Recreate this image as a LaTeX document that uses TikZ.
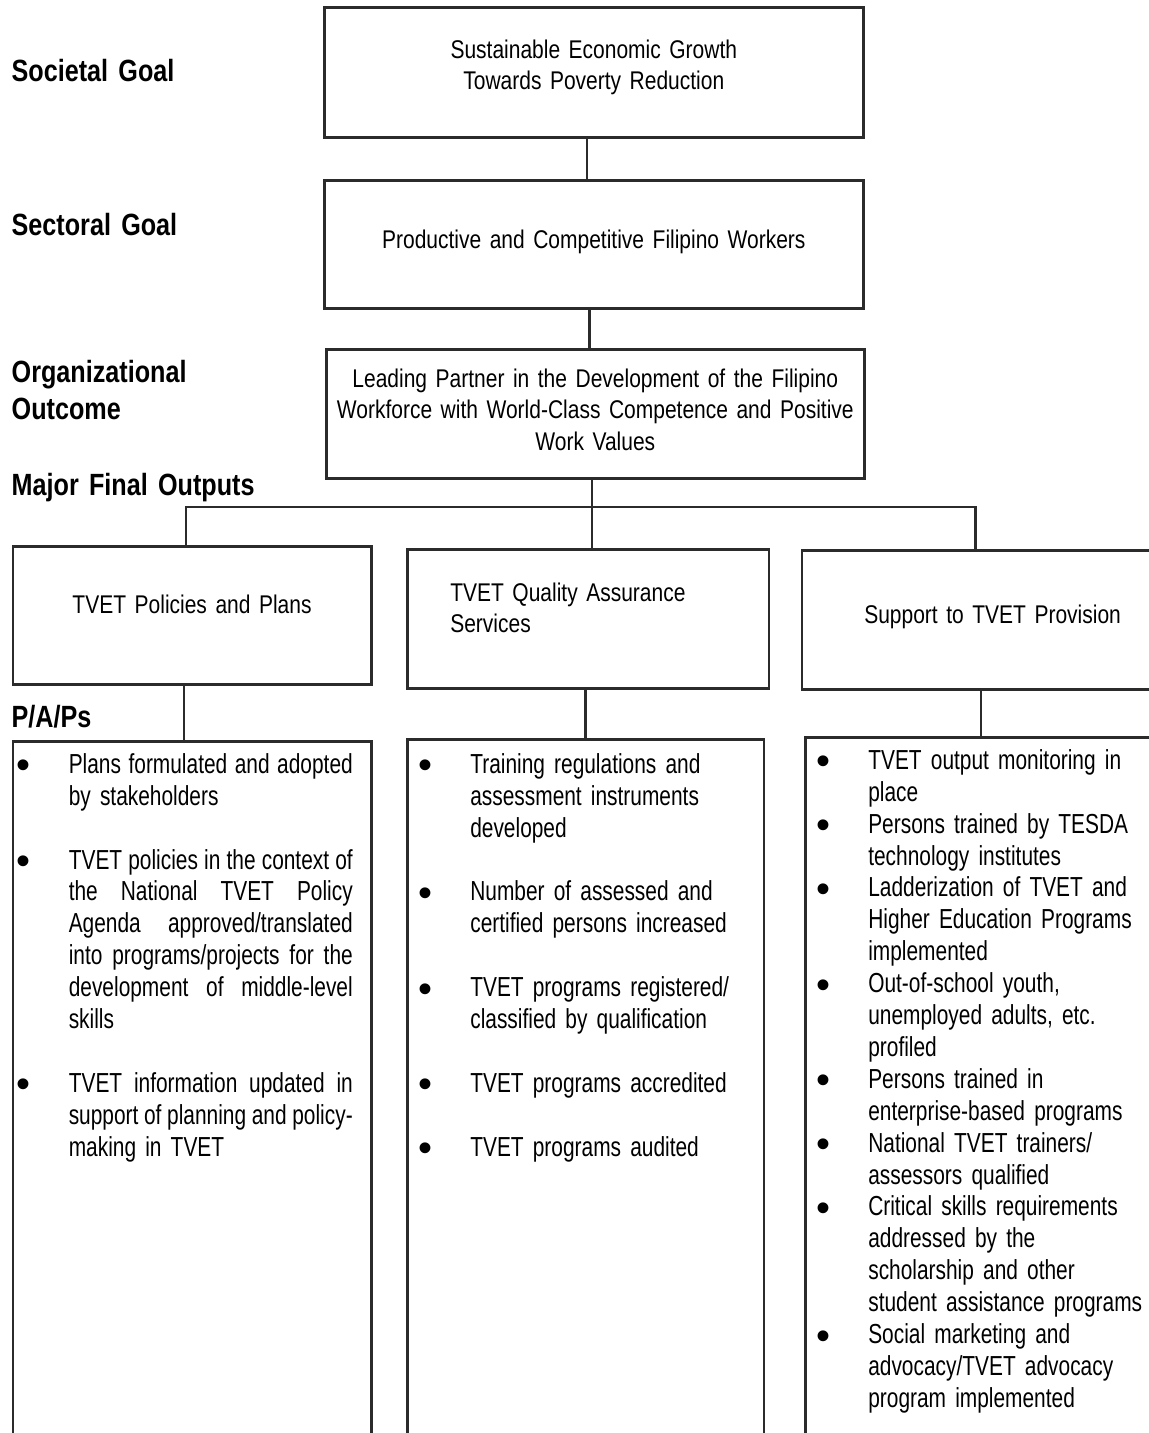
\documentclass[tikz,border=0pt]{standalone}
\usepackage{fontspec}
\setmainfont[FakeStretch=0.76]{Liberation Sans}
\newfontfamily\narrowsf[FakeStretch=0.82]{Liberation Sans}
\newfontfamily\plainsf{Liberation Sans}
\usepackage{tikz}
\definecolor{Ink}{HTML}{2B2B2B}
\newcommand{\pbul}{\leavevmode\llap{\raisebox{-5.5pt}{\plainsf\scalebox{1.45}{\textbullet}}\hspace{38pt}}}
\newcommand{\jline}[1]{\leavevmode\hbox to 284pt{\spaceskip=0.25em plus 1fil minus 0.1em\relax#1}}

\begin{document}
\begin{tikzpicture}[x=1pt,y=-1pt,
  goalbox/.style={draw=Ink,line width=2.6pt,anchor=north west,inner sep=0pt,align=center,font=\narrowsf\fontsize{25.6}{31.5}\selectfont},
  tier/.style={anchor=base west,inner sep=0pt,align=left,text width=250pt,font=\narrowsf\bfseries\fontsize{30.7}{37.5}\selectfont},
  papbox/.style={draw=Ink,line width=2.6pt,anchor=north west,inner sep=0pt,align=left,text height=32pt,text depth=700pt,font=\fontsize{27.5}{31.9}\selectfont},
  link/.style={draw=Ink,line width=2.6pt}
]
\useasboundingbox (0,0) rectangle (1149,1433);
\clip (0,0) rectangle (1149,1433);

\node[tier] (lsoc) at (11.5,81) {Societal Goal};
\node[tier] (lsec) at (11.5,235) {Sectoral Goal};
\node[tier] (lorg) at (11.5,382) {Organizational\\Outcome};
\node[tier] (lmfo) at (11.5,495) {Major Final Outputs};
\node[tier] (lpap) at (11.5,727) {P/A/Ps};

\node[goalbox,text width=539pt,text height=51pt,text depth=79pt] (soc) at (323,6) {Sustainable Economic Growth\\Towards Poverty Reduction};
\node[goalbox,text width=539pt,text height=68pt,text depth=60pt] (sec) at (323,179) {Productive and Competitive Filipino Workers};
\node[goalbox,text width=538pt,text height=38pt,text depth=91pt] (org) at (325,348) {Leading Partner in the Development of the Filipino\\Workforce with World-Class Competence and Positive\\Work Values};

\node[goalbox,text width=358.5pt,text height=67pt,text depth=71pt] (mfoA) at (11.5,545) {TVET Policies and Plans};
\node[goalbox,align=left,inner xsep=43pt,text width=275.6pt,text height=52pt,text depth=87pt] (mfoB) at (406,548) {TVET Quality Assurance\\Services};
\node[goalbox,text width=381.4pt,text height=73pt,text depth=66pt] (mfoC) at (800.6,549) {Support to TVET Provision};

\node[papbox,text width=358.5pt] (papA) at (11.5,740) {\leftskip=56pt
\pbul\jline{Plans formulated and adopted}\\
by stakeholders\\[31.9pt]
\pbul\jline{TVET policies in the context of}\\
\jline{the National TVET Policy}\\
\jline{Agenda approved/translated}\\
\jline{into programs/projects for the}\\
\jline{development of middle-level}\\
skills\\[31.9pt]
\pbul\jline{TVET information updated in}\\
\jline{support of planning and policy-}\\
making in TVET\par};
\node[papbox,text width=356.5pt,text height=34pt] (papB) at (406,738) {\leftskip=63pt
\pbul Training regulations and\\
assessment instruments\\
developed\\[31.9pt]
\pbul Number of assessed and\\
certified persons increased\\[31.9pt]
\pbul TVET programs registered/\\
classified by qualification\\[31.9pt]
\pbul TVET programs accredited\\[31.9pt]
\pbul TVET programs audited\par};
\node[papbox,text width=378pt] (papC) at (804,736) {\leftskip=63pt
\pbul TVET output monitoring in\\
place\\
\pbul Persons trained by TESDA\\
technology institutes\\
\pbul Ladderization of TVET and\\
Higher Education Programs\\
implemented\\
\pbul Out-of-school youth,\\
unemployed adults, etc.\\
profiled\\
\pbul Persons trained in\\
enterprise-based programs\\
\pbul National TVET trainers/\\
assessors qualified\\
\pbul Critical skills requirements\\
addressed by the\\
scholarship and other\\
student assistance programs\\
\pbul Social marketing and\\
advocacy/TVET advocacy\\
program implemented\par};

\coordinate (g1) at (587,0);
\coordinate (g2) at (589.5,0);
\coordinate (tA) at (186,507);
\coordinate (tB) at (592,507);
\coordinate (tC) at (975.5,507);
\coordinate (dA) at (184,0);
\coordinate (dB) at (585.5,0);
\coordinate (dC) at (981,0);

\draw[link] (soc.south -| g1) -- (sec.north -| g1);
\draw[link] (sec.south -| g2) -- (org.north -| g2);
\draw[link] (org.south -| tB) -- (mfoB.north -| tB);
\draw[link] (mfoA.north -| tA) -- (tA) -- (tC) -- (mfoC.north -| tC);
\draw[link] (mfoA.south -| dA) -- (papA.north -| dA);
\draw[link] (mfoB.south -| dB) -- (papB.north -| dB);
\draw[link] (mfoC.south -| dC) -- (papC.north -| dC);
\end{tikzpicture}
\end{document}
